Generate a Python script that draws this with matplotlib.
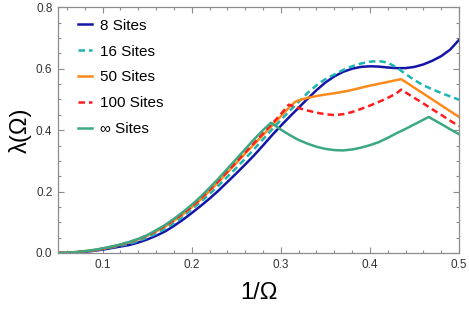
import matplotlib
matplotlib.use("Agg")
import matplotlib.pyplot as plt
from matplotlib.ticker import MultipleLocator, FixedLocator, FormatStrFormatter

# ---- data ----
x_pre = [0.05, 0.06, 0.07, 0.08, 0.09, 0.10, 0.11, 0.12, 0.13, 0.14, 0.15, 0.16, 0.17,
         0.18, 0.19, 0.20, 0.21, 0.22, 0.23, 0.24, 0.25, 0.26, 0.27, 0.28]

# 8 Sites
x8 = x_pre + [0.29, 0.30, 0.31, 0.32, 0.33, 0.34, 0.35, 0.36, 0.37, 0.38, 0.39, 0.40,
              0.41, 0.42, 0.43, 0.44, 0.45, 0.46, 0.47, 0.48, 0.49, 0.50]
y8 = [0.000, 0.0005, 0.002, 0.004, 0.007, 0.011, 0.016, 0.021, 0.026, 0.034, 0.044, 0.056, 0.070,
      0.088, 0.108, 0.130, 0.153, 0.177, 0.203, 0.231, 0.259, 0.288, 0.318, 0.350,
      0.383, 0.414, 0.444, 0.473, 0.502, 0.530, 0.555, 0.575, 0.590, 0.600, 0.606, 0.608,
      0.607, 0.604, 0.602, 0.602, 0.606, 0.614, 0.626, 0.641, 0.662, 0.694]

# 16 Sites
x16 = x_pre + [0.29, 0.30, 0.31, 0.32, 0.33, 0.34, 0.35, 0.36, 0.37, 0.38, 0.39, 0.40,
               0.41, 0.42, 0.43, 0.44, 0.45, 0.46, 0.47, 0.48, 0.49, 0.50]
y16 = [0.000, 0.0006, 0.0025, 0.005, 0.008, 0.013, 0.018, 0.024, 0.030, 0.039, 0.050, 0.063, 0.078,
       0.097, 0.118, 0.142, 0.166, 0.192, 0.219, 0.248, 0.277, 0.307, 0.338, 0.370,
       0.402, 0.433, 0.463, 0.492, 0.521, 0.546, 0.566, 0.581, 0.596, 0.608, 0.617, 0.623,
       0.625, 0.620, 0.604, 0.583, 0.563, 0.546, 0.533, 0.521, 0.510, 0.499]

# 50 Sites
x50 = x_pre + [0.29, 0.30, 0.31, 0.316, 0.32, 0.33, 0.34, 0.35, 0.36, 0.37, 0.38, 0.39,
               0.40, 0.41, 0.42, 0.43, 0.435, 0.44, 0.45, 0.46, 0.47, 0.48, 0.49, 0.50]
y50 = [0.000, 0.0008, 0.003, 0.006, 0.009, 0.014, 0.020, 0.027, 0.035, 0.044, 0.056, 0.070, 0.086,
       0.105, 0.126, 0.149, 0.174, 0.202, 0.231, 0.262, 0.293, 0.324, 0.354, 0.384,
       0.414, 0.445, 0.476, 0.492, 0.497, 0.505, 0.511, 0.516, 0.520, 0.525, 0.531, 0.538,
       0.545, 0.551, 0.557, 0.563, 0.566, 0.557, 0.538, 0.519, 0.500, 0.481, 0.462, 0.443]

# 100 Sites
x100 = x_pre + [0.29, 0.30, 0.309, 0.32, 0.33, 0.34, 0.35, 0.36, 0.37, 0.38, 0.39, 0.40,
                0.41, 0.42, 0.43, 0.435, 0.44, 0.45, 0.46, 0.47, 0.48, 0.49, 0.50]
y100 = [0.000, 0.0008, 0.003, 0.006, 0.009, 0.014, 0.020, 0.027, 0.035, 0.045, 0.057, 0.071, 0.088,
        0.107, 0.128, 0.151, 0.177, 0.205, 0.234, 0.265, 0.296, 0.327, 0.358, 0.389,
        0.420, 0.452, 0.483, 0.472, 0.464, 0.457, 0.452, 0.449, 0.452, 0.459, 0.469, 0.480,
        0.492, 0.505, 0.520, 0.532, 0.523, 0.505, 0.487, 0.468, 0.450, 0.431, 0.413]

# infinite Sites
xinf = x_pre + [0.289, 0.30, 0.31, 0.32, 0.33, 0.34, 0.35, 0.36, 0.37, 0.38, 0.39, 0.40,
                0.41, 0.42, 0.43, 0.44, 0.45, 0.46, 0.466, 0.48, 0.49, 0.50]
yinf = [0.000, 0.001, 0.003, 0.006, 0.010, 0.015, 0.021, 0.028, 0.036, 0.046, 0.058, 0.074, 0.091,
        0.111, 0.133, 0.157, 0.183, 0.212, 0.242, 0.274, 0.306, 0.338, 0.370, 0.400,
        0.424, 0.402, 0.384, 0.368, 0.356, 0.346, 0.339, 0.335, 0.334, 0.337, 0.343, 0.351,
        0.361, 0.375, 0.390, 0.404, 0.419, 0.434, 0.443, 0.420, 0.403, 0.387]

labels = ["8 Sites", "16 Sites", "50 Sites", "100 Sites", "\u221e Sites"]
colors = ["#1414a8", "#1cb4b4", "#ff8a1c", "#ff1c1c", "#3aa983"]

fig = plt.figure(figsize=(4.69, 3.10), dpi=100)
ax = fig.add_axes([0.1237, 0.1839, 0.8550, 0.7925])

lw = 1.8
ax.plot(x8, y8, color=colors[0], lw=lw, label=labels[0])
ax.plot(x16, y16, color=colors[1], lw=lw, ls=(0, (2.6, 1.6)), label=labels[1])
ax.plot(x50, y50, color=colors[2], lw=lw, label=labels[2])
ax.plot(x100, y100, color=colors[3], lw=lw, ls=(0, (2.6, 1.6)), label=labels[3])
ax.plot(xinf, yinf, color=colors[4], lw=lw, label=labels[4])

ax.set_xlim(0.05, 0.5)
ax.set_ylim(0.0, 0.8)

ax.xaxis.set_major_locator(FixedLocator([0.1, 0.2, 0.3, 0.4, 0.5]))
ax.xaxis.set_minor_locator(FixedLocator([0.06, 0.08, 0.12, 0.14, 0.16, 0.18, 0.22, 0.24,
                                         0.26, 0.28, 0.32, 0.34, 0.36, 0.38, 0.42, 0.44,
                                         0.46, 0.48]))
ax.yaxis.set_major_locator(MultipleLocator(0.2))
ax.yaxis.set_minor_locator(MultipleLocator(0.05))
ax.xaxis.set_major_formatter(FormatStrFormatter('%.1f'))
ax.yaxis.set_major_formatter(FormatStrFormatter('%.1f'))

fr = "#8c8c8c"
for s in ax.spines.values():
    s.set_color(fr)
    s.set_linewidth(0.9)
ax.tick_params(which='both', direction='in', top=True, right=True, color=fr,
               labelcolor="#333333", labelsize=8.5, width=0.8)
ax.tick_params(which='major', length=4, pad=4)
ax.tick_params(which='minor', length=2.2)
for lab in ax.get_xticklabels() + ax.get_yticklabels():
    lab.set_family("Liberation Sans")

ax.set_xlabel("1/\u03a9", fontsize=17, family="Liberation Sans", labelpad=8)
ax.set_ylabel("\u03bb(\u03a9)", fontsize=17, family="Liberation Sans", labelpad=3)

leg = ax.legend(loc="upper left", bbox_to_anchor=(0.015, 1.01), frameon=False,
                prop={"family": "Liberation Sans", "size": 11},
                handlelength=0.95, handletextpad=0.5, labelspacing=0.78)

fig.savefig("out.png", dpi=100)
